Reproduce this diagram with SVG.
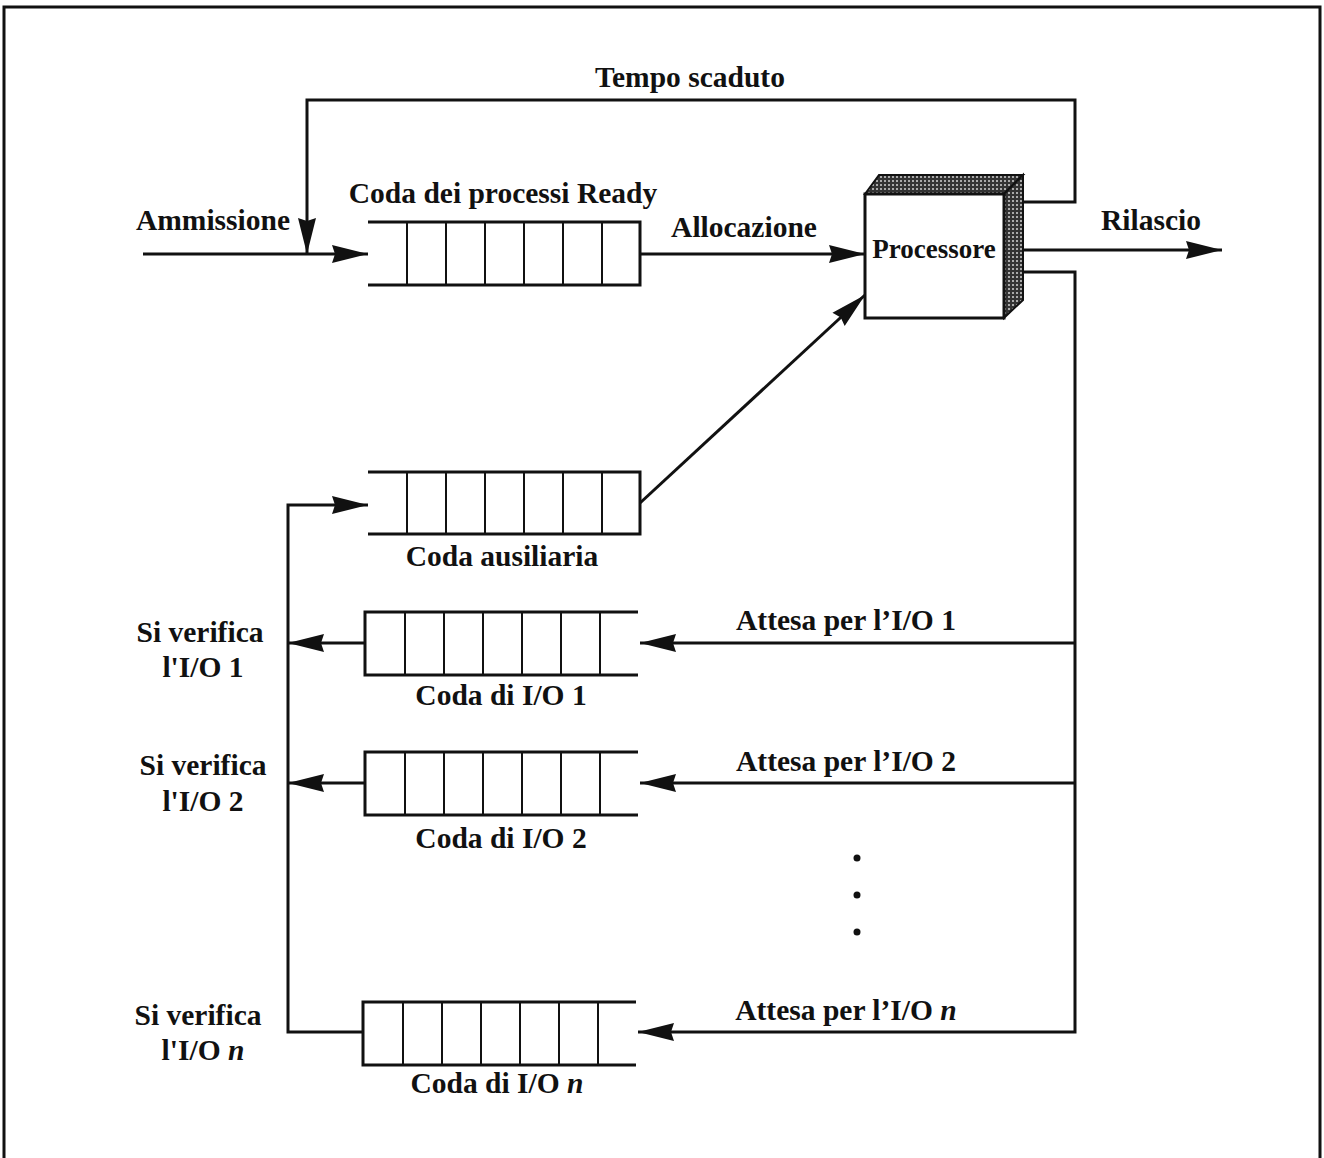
<svg xmlns="http://www.w3.org/2000/svg" width="1324" height="1158" viewBox="0 0 1324 1158">
<style>
.t{font-family:"Liberation Serif","Times New Roman",serif;font-weight:bold;font-size:29.5px;fill:#111}
.c{stroke:#111;stroke-width:3;fill:none}
.cell{stroke:#111;stroke-width:2;fill:none}
</style>
<defs>
<marker id="ah" viewBox="0 0 36 20" refX="36" refY="10" markerWidth="36" markerHeight="20" markerUnits="userSpaceOnUse" orient="auto">
<path d="M0,1 L36,10 L0,19 L3,10 z" fill="#111"/>
</marker>
<pattern id="dots" width="4" height="4" patternUnits="userSpaceOnUse">
<rect width="4" height="4" fill="#333"/>
<rect width="2" height="2" fill="#aaa"/>
</pattern>
</defs>
<rect width="1324" height="1158" fill="#fff"/>
<g id="border">
<path d="M4,1158 L4,7 L1320,7 L1320,1158" fill="none" stroke="#111" stroke-width="3"/>
</g>
<g id="connectors">
<path class="c" d="M143,254 L368,254" marker-end="url(#ah)"/>
<path class="c" d="M1022,202 L1075,202 L1075,100 L307,100 L307,254" marker-end="url(#ah)"/>
<path class="c" d="M640,254 L865,254" marker-end="url(#ah)"/>
<path class="c" d="M1022,250 L1222,250" marker-end="url(#ah)"/>
<path class="c" d="M1022,272 L1075,272 L1075,1032 L638,1032" marker-end="url(#ah)"/>
<path class="c" d="M1075,643 L640,643" marker-end="url(#ah)"/>
<path class="c" d="M1075,783 L640,783" marker-end="url(#ah)"/>
<path class="c" d="M640,503 L865,295" marker-end="url(#ah)"/>
<path class="c" d="M363,1032 L288,1032 L288,505 L368,505" marker-end="url(#ah)"/>
<path class="c" d="M365,643 L288,643" marker-end="url(#ah)"/>
<path class="c" d="M365,783 L288,783" marker-end="url(#ah)"/>
<circle cx="857" cy="858" r="3.5" fill="#111"/>
<circle cx="857" cy="895" r="3.5" fill="#111"/>
<circle cx="857" cy="932" r="3.5" fill="#111"/>
</g>
<g id="ready-queue">
<path class="c" d="M368,222 L640,222 L640,285 L368,285"/>
<path class="cell" d="M407,222V285M446,222V285M485,222V285M524,222V285M563,222V285M602,222V285"/>
<text class="t" x="503" y="203" text-anchor="middle">Coda dei processi Ready</text>
</g>
<g id="aux-queue">
<path class="c" d="M368,472 L640,472 L640,534 L368,534"/>
<path class="cell" d="M407,472V534M446,472V534M485,472V534M524,472V534M563,472V534M602,472V534"/>
<text class="t" x="502" y="566" text-anchor="middle">Coda ausiliaria</text>
</g>
<g id="io1-queue">
<path class="c" d="M638,612 L365,612 L365,675 L638,675"/>
<path class="cell" d="M405,612V675M444,612V675M483,612V675M522,612V675M561,612V675M600,612V675"/>
<text class="t" x="501" y="705" text-anchor="middle">Coda di I/O 1</text>
</g>
<g id="io2-queue">
<path class="c" d="M638,752 L365,752 L365,815 L638,815"/>
<path class="cell" d="M405,752V815M444,752V815M483,752V815M522,752V815M561,752V815M600,752V815"/>
<text class="t" x="501" y="848" text-anchor="middle">Coda di I/O 2</text>
</g>
<g id="ion-queue">
<path class="c" d="M636,1002 L363,1002 L363,1065 L636,1065"/>
<path class="cell" d="M403,1002V1065M442,1002V1065M481,1002V1065M520,1002V1065M559,1002V1065M598,1002V1065"/>
<text class="t" x="497" y="1093" text-anchor="middle">Coda di I/O <tspan font-style="italic">n</tspan></text>
</g>
<g id="processor">
<path d="M865,194 L879,175 L1023,175 L1004,194 z" fill="url(#dots)" stroke="#111" stroke-width="2"/>
<path d="M1004,194 L1023,175 L1023,300 L1004,318 z" fill="url(#dots)" stroke="#111" stroke-width="2"/>
<rect x="865" y="194" width="139" height="124" fill="#fff" stroke="#111" stroke-width="3"/>
<text class="t" x="934" y="258" text-anchor="middle" style="font-size:27px">Processore</text>
</g>
<g id="labels">
<text class="t" x="690" y="87" text-anchor="middle">Tempo scaduto</text>
<text class="t" x="213" y="230" text-anchor="middle">Ammissione</text>
<text class="t" x="744" y="237" text-anchor="middle">Allocazione</text>
<text class="t" x="1151" y="230" text-anchor="middle">Rilascio</text>
<text class="t" x="846" y="630" text-anchor="middle">Attesa per l’I/O 1</text>
<text class="t" x="846" y="771" text-anchor="middle">Attesa per l’I/O 2</text>
<text class="t" x="846" y="1020" text-anchor="middle">Attesa per l’I/O <tspan font-style="italic">n</tspan></text>
<text class="t" x="200" y="642" text-anchor="middle">Si verifica</text>
<text class="t" x="203" y="677" text-anchor="middle">l'I/O 1</text>
<text class="t" x="203" y="775" text-anchor="middle">Si verifica</text>
<text class="t" x="203" y="811" text-anchor="middle">l'I/O 2</text>
<text class="t" x="198" y="1025" text-anchor="middle">Si verifica</text>
<text class="t" x="203" y="1060" text-anchor="middle">l'I/O <tspan font-style="italic">n</tspan></text>
</g>
</svg>
